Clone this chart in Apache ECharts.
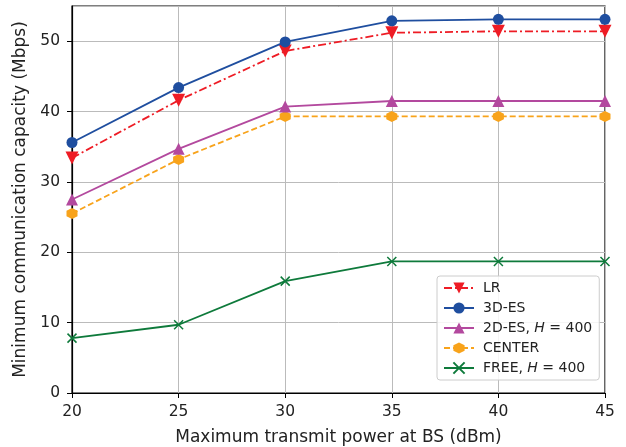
<!DOCTYPE html>
<html>
<head>
<meta charset="utf-8">
<script src="https://cdn.jsdelivr.net/npm/echarts@6/dist/echarts.min.js"></script>
<style>
  html, body { margin: 0; padding: 0; background: #fff; }
  #chart { width: 626px; height: 447px; }
</style>
</head>
<body>
<div id="chart"></div>
<script>
var powers = [20, 25, 30, 35, 40, 45];
var lrData = [33.4, 41.6, 48.6, 51.2, 51.4, 51.4];
var es3dData = [35.6, 43.4, 49.9, 52.9, 53.1, 53.1];
var es2dData = [27.5, 34.7, 40.7, 41.5, 41.5, 41.5];
var centerData = [25.5, 33.2, 39.3, 39.3, 39.3, 39.3];
var freeData = [7.8, 9.7, 15.9, 18.7, 18.7, 18.7];

function pairs(vals) {
  return vals.map(function (v, i) { return [powers[i], v]; });
}

var chartDom = document.getElementById('chart');
var myChart = echarts.init(chartDom);
var font = 'DejaVu Sans';
var hexagon = 'path://M5,0L9.33,2.5L9.33,7.5L5,10L0.67,7.5L0.67,2.5Z';
var cross = 'path://M0,0L10,10M10,0L0,10';
var option;
option = {
  animation: false,
  textStyle: { fontFamily: font },
  grid: {
    left: 72,
    right: 21,
    top: 6,
    bottom: 54,
    outerBoundsMode: 'none',
    containLabel: false,
    show: true,
    borderColor: '#000',
    borderWidth: 1.2
  },
  legend: {
    left: 437,
    top: 276,
    orient: 'vertical',
    padding: [5, 7, 5, 6],
    itemGap: 6,
    itemWidth: 30,
    itemHeight: 14,
    backgroundColor: 'rgba(255,255,255,0.85)',
    borderColor: '#ccc',
    borderWidth: 1,
    borderRadius: 3,
    textStyle: {
      fontFamily: font,
      fontSize: 14,
      color: '#222',
      padding: [0, 0, 0, 4],
      rich: {
        i: { fontStyle: 'italic', fontFamily: font, fontSize: 14, color: '#222' }
      }
    },
    formatter: function (name) {
      return name.replace('H = ', '{i|H} = ');
    },
    data: ['LR', '3D-ES', '2D-ES, H = 400', 'CENTER', 'FREE, H = 400']
  },
  xAxis: {
    type: 'value',
    min: 20,
    max: 45,
    interval: 5,
    name: 'Maximum transmit power at BS (dBm)',
    nameLocation: 'middle',
    nameGap: 36,
    nameTextStyle: { fontFamily: font, fontSize: 17, color: '#222' },
    axisLine: { show: true, onZero: false, lineStyle: { color: '#000', width: 1.2 } },
    axisTick: { show: true, length: 5, lineStyle: { color: '#000' } },
    axisLabel: { fontFamily: font, fontSize: 15.5, color: '#222', margin: 11 },
    splitLine: { show: true, lineStyle: { color: '#bbb', width: 1 } }
  },
  yAxis: {
    type: 'value',
    min: 0,
    max: 55,
    interval: 10,
    name: 'Minimum communication capacity (Mbps)',
    nameLocation: 'middle',
    nameGap: 41,
    nameTextStyle: { fontFamily: font, fontSize: 17, color: '#222' },
    axisLine: { show: true, lineStyle: { color: '#000', width: 1.2 } },
    axisTick: { show: true, length: 5, lineStyle: { color: '#000' } },
    axisLabel: { fontFamily: font, fontSize: 15.5, color: '#222', margin: 12, showMaxLabel: false },
    splitLine: { show: true, lineStyle: { color: '#bbb', width: 1 } }
  },
  series: [
    {
      name: 'LR',
      type: 'line',
      data: pairs(lrData),
      symbol: 'triangle',
      symbolRotate: 180,
      symbolSize: 13,
      z: 4,
      itemStyle: { color: '#ee1c25' },
      lineStyle: { color: '#ee1c25', width: 1.8, type: [8, 3, 2, 3] }
    },
    {
      name: '3D-ES',
      type: 'line',
      data: pairs(es3dData),
      symbol: 'circle',
      symbolSize: 11,
      z: 5,
      itemStyle: { color: '#1f4e9f' },
      lineStyle: { color: '#1f4e9f', width: 1.8 }
    },
    {
      name: '2D-ES, H = 400',
      type: 'line',
      data: pairs(es2dData),
      symbol: 'triangle',
      symbolSize: 12,
      z: 4,
      itemStyle: { color: '#b3499e' },
      lineStyle: { color: '#b3499e', width: 1.8 }
    },
    {
      name: 'CENTER',
      type: 'line',
      data: pairs(centerData),
      symbol: hexagon,
      symbolSize: 11,
      z: 3,
      itemStyle: { color: '#f8a31b' },
      lineStyle: { color: '#f8a31b', width: 1.8, type: [6, 3] }
    },
    {
      name: 'FREE, H = 400',
      type: 'line',
      data: pairs(freeData),
      symbol: cross,
      symbolSize: 9,
      z: 3,
      itemStyle: { color: '#0e7a3b', borderColor: '#0e7a3b', borderWidth: 1.5 },
      lineStyle: { color: '#0e7a3b', width: 1.8 }
    }
  ]
};
myChart.setOption(option);
</script>
</body>
</html>
